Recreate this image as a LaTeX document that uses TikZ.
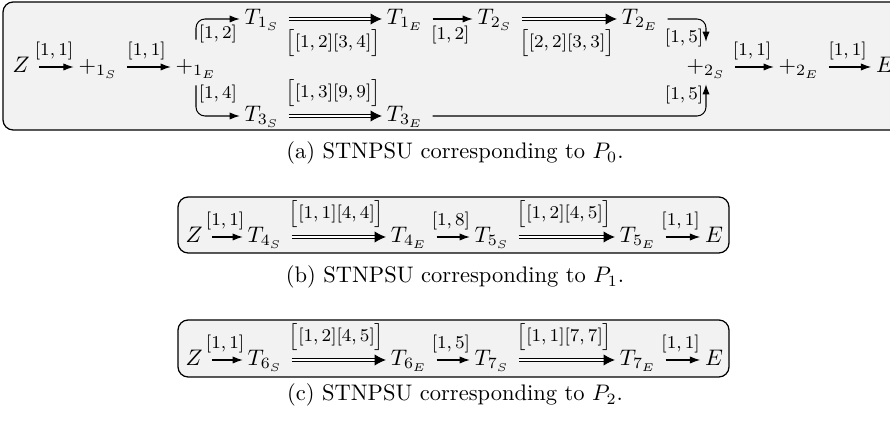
\documentclass[tikz,border=0pt]{standalone}
\usetikzlibrary{arrows.meta}
\begin{document}
\begin{tikzpicture}[x=0.4444pt,y=-0.4444pt,
  mn/.style={inner xsep=2pt,inner ysep=0pt,text height=7.5pt,text depth=2.5pt},
  lab/.style={font=\fontsize{8.5}{10}\selectfont,inner sep=3pt},
  dlab/.style={font=\fontsize{8.5}{10}\selectfont,inner sep=4pt},
  ar/.style={-{Latex[length=4.5pt,width=3.2pt]},line width=0.45pt,shorten <=2pt},
  dar/.style={double,double distance=1.3pt,line width=0.4pt,-{Latex[length=5pt,width=5pt]},shorten <=2pt},
  bar/.style={ar,rounded corners=4pt},
  bx/.style={draw=black,fill=gray!10,rounded corners=4.5pt,line width=0.55pt},
  captext/.style={anchor=base,inner sep=0pt}]
\useasboundingbox (0,0) rectangle (890,421);
\clip (0,0) rectangle (890,421);
% ---------- (a) ----------
\draw[bx] (3,2) rectangle (905,130);
\node[mn] (Z)   at (21,67)  {$Z$};
\node[mn] (p1S) at (98,67)  {$+_{1_S}$};
\node[mn] (p1E) at (196,67) {$+_{1_E}$};
\node[mn] (p2S) at (706,67) {$+_{2_S}$};
\node[mn] (p2E) at (799,67) {$+_{2_E}$};
\node[mn] (E)   at (885,67) {$E$};
\node[mn] (T1S) at (262,19) {$T_{1_S}$};
\node[mn] (T1E) at (405,19) {$T_{1_E}$};
\node[mn] (T2S) at (495,19) {$T_{2_S}$};
\node[mn] (T2E) at (640,19) {$T_{2_E}$};
\node[mn] (T3S) at (262,116) {$T_{3_S}$};
\node[mn] (T3E) at (405,116) {$T_{3_E}$};
\draw[ar] (Z) -- node[lab,above]{$[1,1]$} (p1S);
\draw[ar] (p1S) -- node[lab,above]{$[1,1]$} (p1E);
\draw[bar,shorten <=7pt] (p1E.north) |- node[lab,right,pos=0.3,inner sep=1pt]{$[1,2]$} (T1S.west);
\draw[bar,shorten <=3pt] (p1E.south) |- node[lab,right,pos=0.21,inner sep=1pt]{$[1,4]$} (T3S.west);
\draw[dar] (T1S) -- node[dlab,below]{$\bigl[[1,2][3,4]\bigr]$} (T1E);
\draw[ar] (T1E) -- node[lab,below]{$[1,2]$} (T2S);
\draw[dar] (T2S) -- node[dlab,below]{$\bigl[[2,2][3,3]\bigr]$} (T2E);
\draw[dar] (T3S) -- node[dlab,above]{$\bigl[[1,3][9,9]\bigr]$} (T3E);
\draw[bar,shorten >=6pt] (T2E.east) -| node[lab,left,pos=0.76,inner sep=1pt]{$[1,5]$} (p2S.north);
\draw[bar,shorten >=2.5pt] (T3E.east) -| node[lab,left,pos=0.78,inner sep=1pt]{$[1,5]$} (p2S.south);
\draw[ar] (p2S) -- node[lab,above]{$[1,1]$} (p2E);
\draw[ar] (p2E) -- node[lab,above]{$[1,1]$} (E);
\node[captext] (capa) at (455,159) {(a) STNPSU corresponding to $P_0$.};
% ---------- (b) ----------
\draw[bx] (178,197) rectangle (729,253);
\node[mn] (Zb)  at (194,237) {$Z$};
\node[mn] (T4S) at (265,237) {$T_{4_S}$};
\node[mn] (T4E) at (409,237) {$T_{4_E}$};
\node[mn] (T5S) at (492,237) {$T_{5_S}$};
\node[mn] (T5E) at (638,237) {$T_{5_E}$};
\node[mn] (Eb)  at (714,237) {$E$};
\draw[ar] (Zb) -- node[lab,above]{$[1,1]$} (T4S);
\draw[dar] (T4S) -- node[dlab,above]{$\bigl[[1,1][4,4]\bigr]$} (T4E);
\draw[ar] (T4E) -- node[lab,above]{$[1,8]$} (T5S);
\draw[dar] (T5S) -- node[dlab,above]{$\bigl[[1,2][4,5]\bigr]$} (T5E);
\draw[ar] (T5E) -- node[lab,above]{$[1,1]$} (Eb);
\node[captext] (capb) at (455,283) {(b) STNPSU corresponding to $P_1$.};
% ---------- (c) ----------
\draw[bx] (178,320) rectangle (729,377);
\node[mn] (Zc)  at (194,360) {$Z$};
\node[mn] (T6S) at (265,360) {$T_{6_S}$};
\node[mn] (T6E) at (409,360) {$T_{6_E}$};
\node[mn] (T7S) at (492,360) {$T_{7_S}$};
\node[mn] (T7E) at (638,360) {$T_{7_E}$};
\node[mn] (Ec)  at (714,360) {$E$};
\draw[ar] (Zc) -- node[lab,above]{$[1,1]$} (T6S);
\draw[dar] (T6S) -- node[dlab,above]{$\bigl[[1,2][4,5]\bigr]$} (T6E);
\draw[ar] (T6E) -- node[lab,above]{$[1,5]$} (T7S);
\draw[dar] (T7S) -- node[dlab,above]{$\bigl[[1,1][7,7]\bigr]$} (T7E);
\draw[ar] (T7E) -- node[lab,above]{$[1,1]$} (Ec);
\node[captext] (capc) at (455,401) {(c) STNPSU corresponding to $P_2$.};
\end{tikzpicture}
\end{document}
